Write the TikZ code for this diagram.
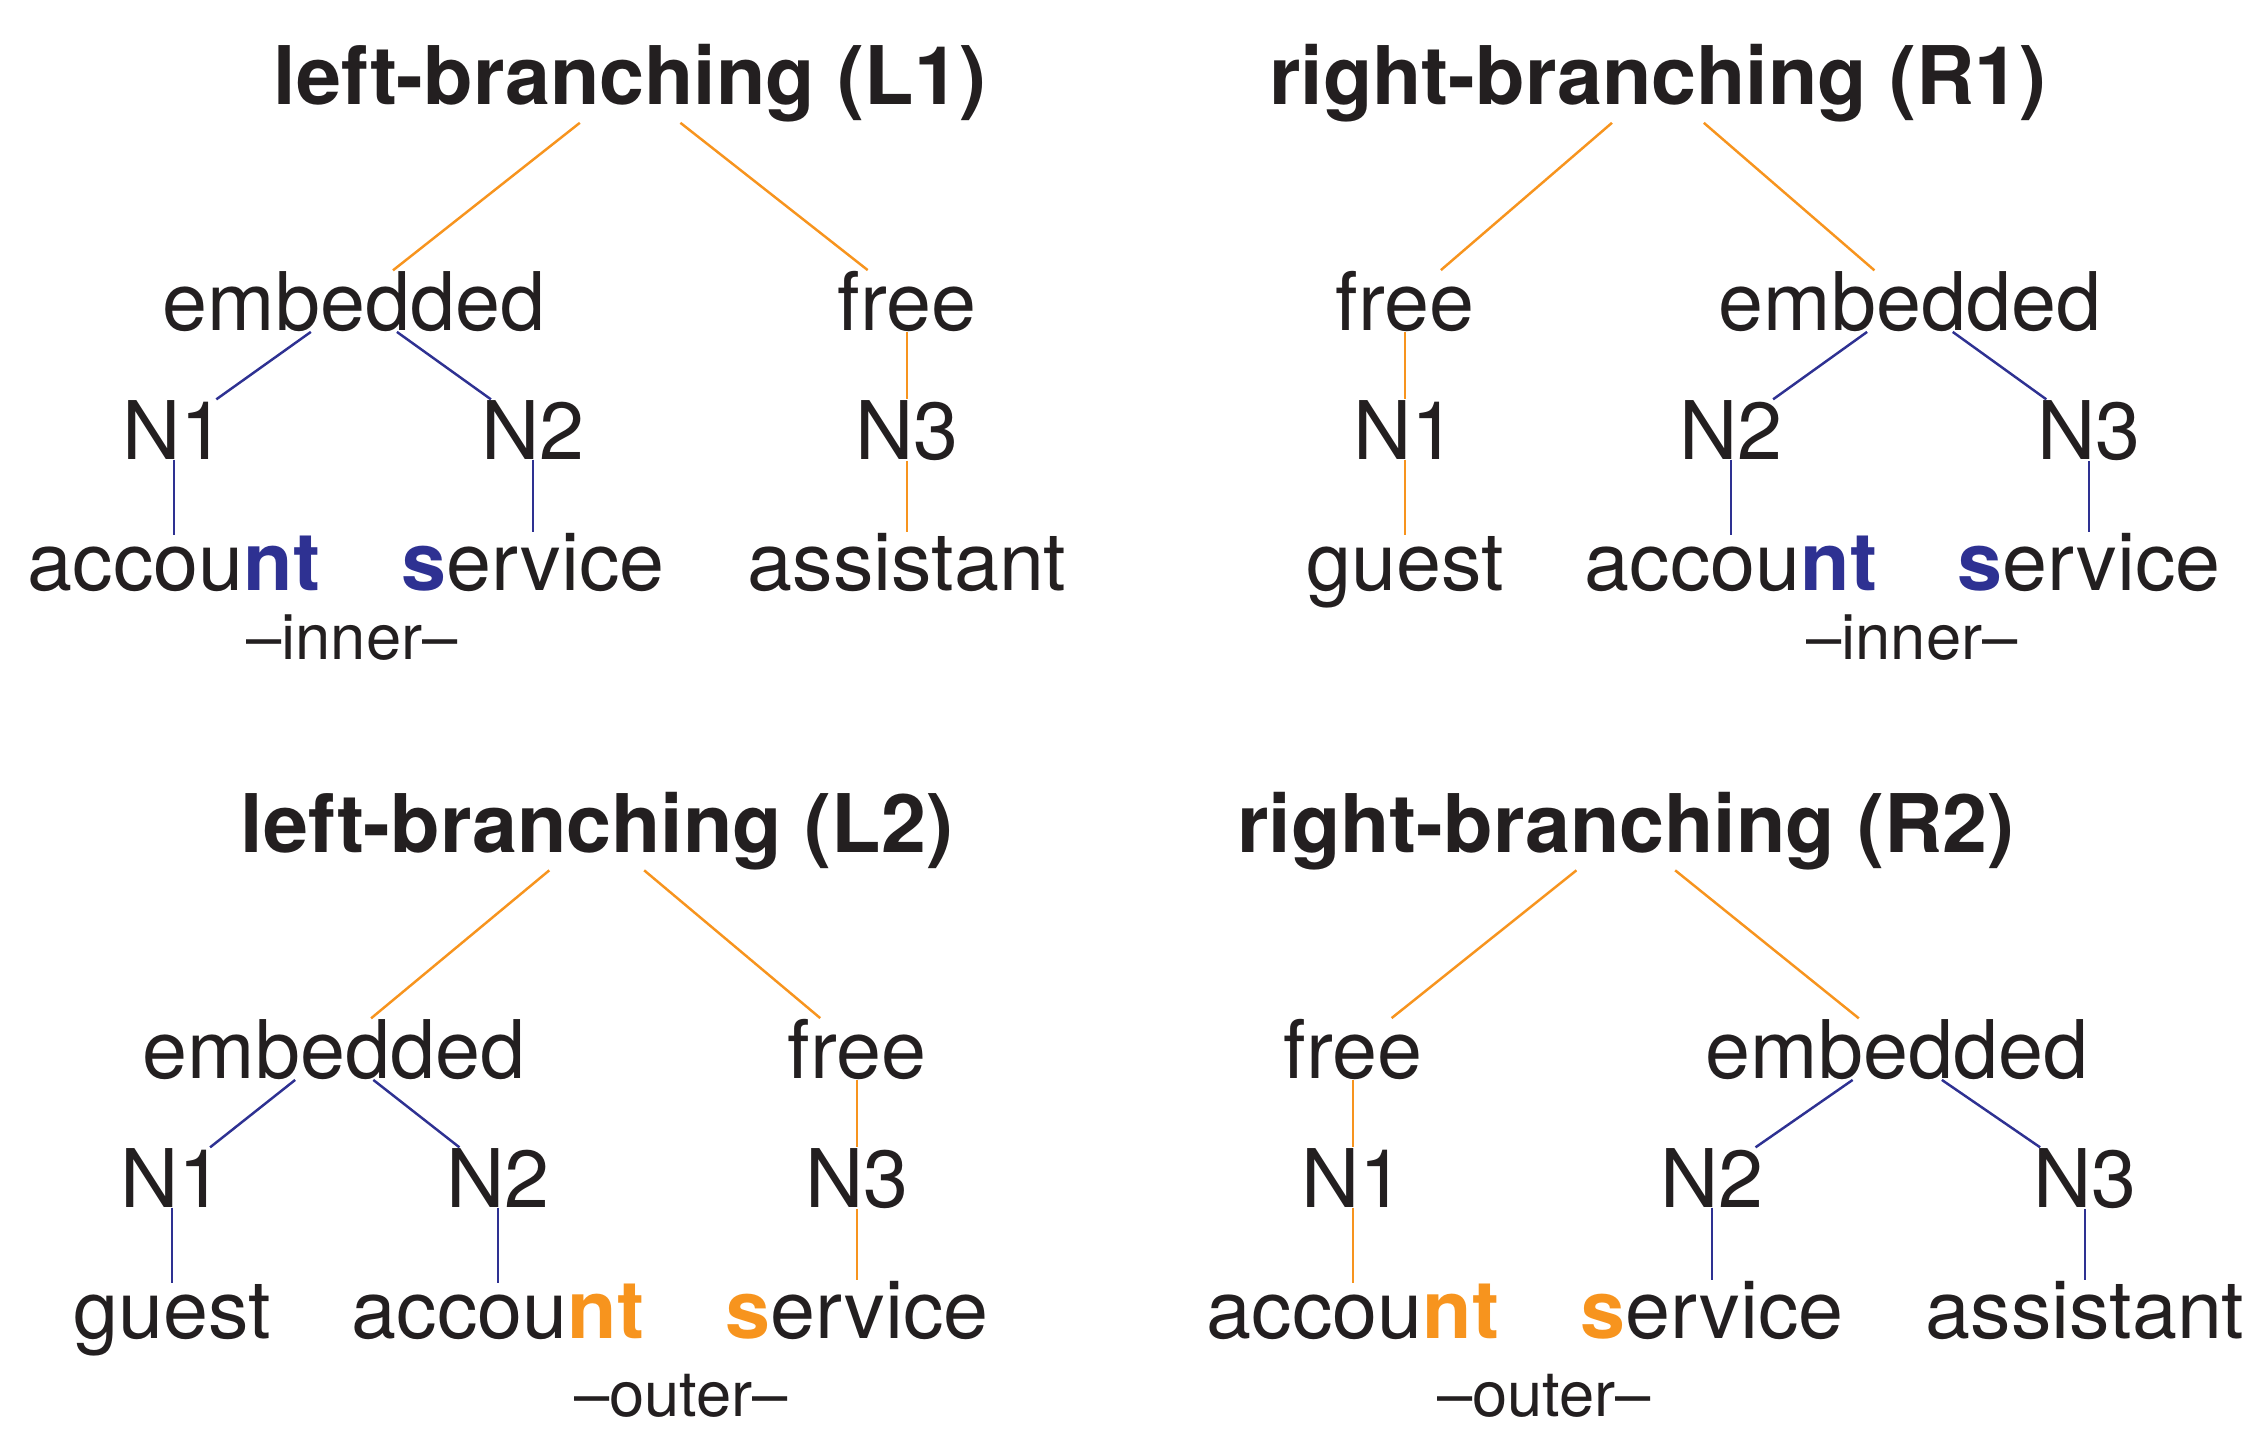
\documentclass[tikz,border=0pt]{standalone}
\usepackage{fontspec}
\setmainfont{TeX Gyre Heros}
\usepackage{tikz}
\usetikzlibrary{positioning,calc}
\definecolor{ink}{RGB}{35,31,32}
\definecolor{outc}{RGB}{247,148,30}
\definecolor{inc}{RGB}{46,49,146}
\newcommand{\inmark}[1]{\textbf{\color{inc}#1}}
\newcommand{\outmark}[1]{\textbf{\color{outc}#1}}
\tikzset{wd/.style={anchor=base,inner sep=0pt,text=ink,font=\fontsize{23}{27}\selectfont},ttl/.style={wd,font=\fontsize{23}{27}\selectfont\bfseries},tag/.style={wd,font=\fontsize{18}{21}\selectfont},oe/.style={draw=outc,line width=0.7pt},ie/.style={draw=inc,line width=0.7pt}}

\begin{document}
\begin{tikzpicture}[x=0.01cm,y=-0.01cm]
\useasboundingbox (0,0) rectangle (2260,1430);
% L1
\node[ttl] (l1) at (630,104.5) {left-branching (L1)};
\node[wd] (l1e) at (354,330) {embedded};
\node[wd] (l1f) at (907,330) {free};
\node[wd] (l1n1) at (174,459) {N1};
\node[wd] (l1n2) at (533,459) {N2};
\node[wd] (l1n3) at (907,459) {N3};
\node[wd] (l1w1) at (174,590) {accou\inmark{nt}};
\node[wd] (l1w2) at (533,590) {\inmark{s}ervice};
\node[wd] (l1w3) at (907,590) {assistant};
\node[tag] (l1t) at (352,659) {–inner–};
\draw[oe] (l1)--(l1e);\draw[oe] (l1)--(l1f);\draw[oe] (l1f)--(l1n3);\draw[oe] (l1n3)--(l1w3);
\draw[ie] (l1e)--(l1n1);\draw[ie] (l1e)--(l1n2);\draw[ie] (l1n1)--(l1w1);\draw[ie] (l1n2)--(l1w2);
% R1
\node[ttl] (r1) at (1658,104.5) {right-branching (R1)};
\node[wd] (r1f) at (1405,330) {free};
\node[wd] (r1e) at (1910,330) {embedded};
\node[wd] (r1n1) at (1405,459) {N1};
\node[wd] (r1n2) at (1731,459) {N2};
\node[wd] (r1n3) at (2089,459) {N3};
\node[wd] (r1w1) at (1405,590) {guest};
\node[wd] (r1w2) at (1731,590) {accou\inmark{nt}};
\node[wd] (r1w3) at (2089,590) {\inmark{s}ervice};
\node[tag] (r1t) at (1912,659) {–inner–};
\draw[oe] (r1)--(r1f);\draw[oe] (r1)--(r1e);\draw[oe] (r1f)--(r1n1);\draw[oe] (r1n1)--(r1w1);
\draw[ie] (r1e)--(r1n2);\draw[ie] (r1e)--(r1n3);\draw[ie] (r1n2)--(r1w2);\draw[ie] (r1n3)--(r1w3);
% L2
\node[ttl] (l2) at (597,852) {left-branching (L2)};
\node[wd] (l2e) at (334,1078) {embedded};
\node[wd] (l2f) at (857,1078) {free};
\node[wd] (l2n1) at (172,1207) {N1};
\node[wd] (l2n2) at (498,1207) {N2};
\node[wd] (l2n3) at (857,1207) {N3};
\node[wd] (l2w1) at (172,1338) {guest};
\node[wd] (l2w2) at (498,1338) {accou\outmark{nt}};
\node[wd] (l2w3) at (857,1338) {\outmark{s}ervice};
\node[tag] (l2t) at (681,1416) {–outer–};
\draw[oe] (l2)--(l2e);\draw[oe] (l2)--(l2f);\draw[oe] (l2f)--(l2n3);\draw[oe] (l2n3)--(l2w3);
\draw[ie] (l2e)--(l2n1);\draw[ie] (l2e)--(l2n2);\draw[ie] (l2n1)--(l2w1);\draw[ie] (l2n2)--(l2w2);
% R2
\node[ttl] (r2) at (1626,852) {right-branching (R2)};
\node[wd] (r2f) at (1353,1078) {free};
\node[wd] (r2e) at (1897,1078) {embedded};
\node[wd] (r2n1) at (1353,1207) {N1};
\node[wd] (r2n2) at (1712,1207) {N2};
\node[wd] (r2n3) at (2085,1207) {N3};
\node[wd] (r2w1) at (1353,1338) {accou\outmark{nt}};
\node[wd] (r2w2) at (1712,1338) {\outmark{s}ervice};
\node[wd] (r2w3) at (2085,1338) {assistant};
\node[tag] (r2t) at (1544,1416) {–outer–};
\draw[oe] (r2)--(r2f);\draw[oe] (r2)--(r2e);\draw[oe] (r2f)--(r2n1);\draw[oe] (r2n1)--(r2w1);
\draw[ie] (r2e)--(r2n2);\draw[ie] (r2e)--(r2n3);\draw[ie] (r2n2)--(r2w2);\draw[ie] (r2n3)--(r2w3);
\end{tikzpicture}
\end{document}
